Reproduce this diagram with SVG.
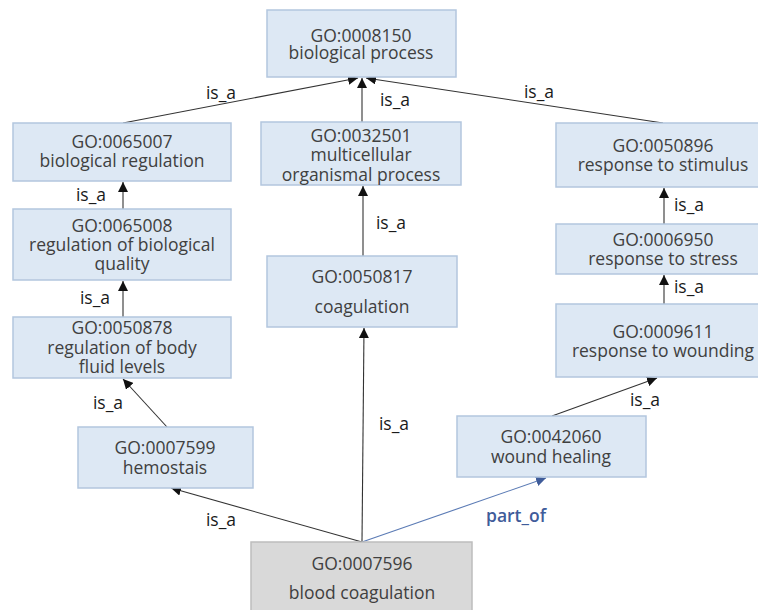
<svg xmlns="http://www.w3.org/2000/svg" width="758" height="610" viewBox="0 0 758 610">
<style>
.n rect{fill:#dde8f4;stroke:#b3c6de;stroke-width:1.5}
.g rect{fill:#d9d9d9;stroke:#bdbdbd;stroke-width:1.5}
.n text,.g text{font-family:"Open Sans","Noto Sans","Liberation Sans",sans-serif;font-size:17.5px;fill:#404040;text-anchor:middle}
.e line{stroke:#333;stroke-width:1.1}
.e line.p{stroke:#5b7bb5}
.l{font-family:"Open Sans","Noto Sans","Liberation Sans",sans-serif;font-size:17.5px;fill:#1a1a1a;text-anchor:middle}
.l.p{fill:#3f5c9a;font-weight:600}
</style>
<defs>
<marker id="ah" viewBox="0 0 10 10" refX="10" refY="5" markerWidth="10" markerHeight="10" markerUnits="userSpaceOnUse" orient="auto"><path d="M0,0 L10,5 L0,10 z" fill="#111"/></marker>
<marker id="ahb" viewBox="0 0 10 10" refX="10" refY="5" markerWidth="10" markerHeight="10" markerUnits="userSpaceOnUse" orient="auto"><path d="M0,0 L10,5 L0,10 z" fill="#3f5c9a"/></marker>
</defs>
<rect width="758" height="610" fill="#fff"/>
<g id="connectors" class="e">
<line x1="123" y1="123" x2="358" y2="78" marker-end="url(#ah)"/>
<line x1="362" y1="122" x2="362" y2="78" marker-end="url(#ah)"/>
<line x1="663" y1="123" x2="366" y2="78" marker-end="url(#ah)"/>
<line x1="123" y1="209" x2="123" y2="182" marker-end="url(#ah)"/>
<line x1="123" y1="317" x2="123" y2="281" marker-end="url(#ah)"/>
<line x1="363" y1="256" x2="363" y2="186" marker-end="url(#ah)"/>
<line x1="167" y1="427" x2="123" y2="379" marker-end="url(#ah)"/>
<line x1="664" y1="224" x2="664" y2="188" marker-end="url(#ah)"/>
<line x1="664" y1="304" x2="664" y2="275" marker-end="url(#ah)"/>
<line x1="552" y1="416" x2="657" y2="378" marker-end="url(#ah)"/>
<line x1="362" y1="542" x2="171" y2="488" marker-end="url(#ah)"/>
<line x1="362" y1="542" x2="364" y2="328" marker-end="url(#ah)"/>
<line class="p" x1="362" y1="542" x2="546" y2="478" marker-end="url(#ahb)"/>
<text class="l" x="221" y="99">is_a</text>
<text class="l" x="395" y="106">is_a</text>
<text class="l" x="539" y="98">is_a</text>
<text class="l" x="91" y="201">is_a</text>
<text class="l" x="95" y="304">is_a</text>
<text class="l" x="391" y="229">is_a</text>
<text class="l" x="108" y="409">is_a</text>
<text class="l" x="689" y="211">is_a</text>
<text class="l" x="689" y="293">is_a</text>
<text class="l" x="645" y="406">is_a</text>
<text class="l" x="221" y="526">is_a</text>
<text class="l" x="394" y="430">is_a</text>
<text class="l p" x="516" y="522">part_of</text>
</g>
<g id="GO0008150" class="n"><rect x="267" y="10" width="189" height="67"/><text x="361" y="42">GO:0008150</text><text x="361" y="59">biological process</text></g>
<g id="GO0065007" class="n"><rect x="13" y="123" width="218" height="58"/><text x="122" y="148">GO:0065007</text><text x="122" y="167">biological regulation</text></g>
<g id="GO0032501" class="n"><rect x="261" y="122" width="200" height="63"/><text x="361" y="142">GO:0032501</text><text x="361" y="161">multicellular</text><text x="361" y="181">organismal process</text></g>
<g id="GO0050896" class="n"><rect x="556" y="123" width="206" height="64"/><text x="663" y="152">GO:0050896</text><text x="663" y="171">response to stimulus</text></g>
<g id="GO0065008" class="n"><rect x="13" y="209" width="218" height="71"/><text x="122" y="232">GO:0065008</text><text x="122" y="251">regulation of biological</text><text x="122" y="270">quality</text></g>
<g id="GO0050817" class="n"><rect x="267" y="256" width="190" height="71"/><text x="362" y="283">GO:0050817</text><text x="362" y="313">coagulation</text></g>
<g id="GO0006950" class="n"><rect x="556" y="224" width="206" height="50"/><text x="663" y="246">GO:0006950</text><text x="663" y="265">response to stress</text></g>
<g id="GO0050878" class="n"><rect x="13" y="317" width="218" height="61"/><text x="122" y="334">GO:0050878</text><text x="122" y="354">regulation of body</text><text x="122" y="373">fluid levels</text></g>
<g id="GO0009611" class="n"><rect x="556" y="304" width="206" height="73"/><text x="663" y="338">GO:0009611</text><text x="663" y="357">response to wounding</text></g>
<g id="GO0007599" class="n"><rect x="78" y="427" width="175" height="61"/><text x="165" y="454">GO:0007599</text><text x="165" y="474">hemostais</text></g>
<g id="GO0042060" class="n"><rect x="457" y="416" width="189" height="61"/><text x="551" y="443">GO:0042060</text><text x="551" y="463">wound healing</text></g>
<g id="GO0007596" class="g"><rect x="251" y="542" width="221" height="75"/><text x="362" y="570">GO:0007596</text><text x="362" y="599">blood coagulation</text></g>
</svg>
